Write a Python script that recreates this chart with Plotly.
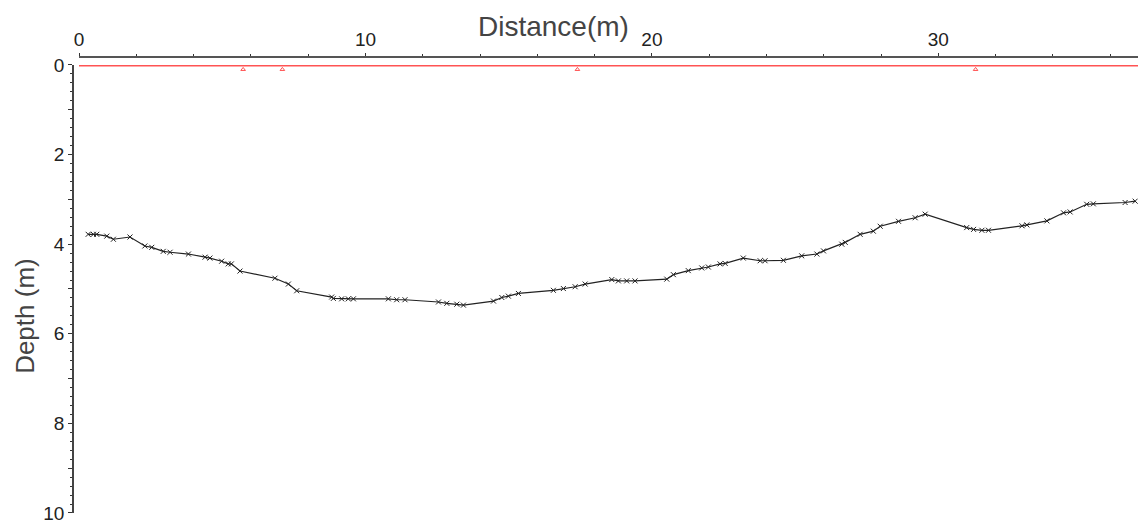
import plotly.graph_objects as go

# Bed profile along the survey line: distance (m) and depth (m)
distance_m = [
    0.32, 0.50, 0.62, 0.97, 1.20, 1.78, 2.30, 2.54, 2.94, 3.18, 3.82, 4.40, 4.57,
    4.98, 5.21, 5.32, 5.62, 6.84, 7.31, 7.60, 8.82, 8.88, 9.17, 9.40, 9.58,
    10.80, 11.09, 11.38, 12.55, 12.84, 13.19, 13.42, 14.47, 14.76, 14.99, 15.34,
    16.56, 16.91, 17.32, 17.67, 18.60, 18.83, 19.12, 19.41, 20.52, 20.75, 21.27,
    21.74, 21.97, 22.38, 22.56, 23.19, 23.78, 23.95, 24.59, 25.23, 25.76, 25.99,
    26.63, 26.75, 27.27, 27.73, 27.97, 28.61, 29.19, 29.54, 30.99, 31.23, 31.52,
    31.75, 32.92, 33.09, 33.79, 34.37, 34.60, 35.18, 35.41, 36.52, 36.87,
]
depth_m = [
    3.78, 3.78, 3.78, 3.82, 3.89, 3.84, 4.04, 4.07, 4.16, 4.18, 4.22, 4.29, 4.31,
    4.38, 4.44, 4.44, 4.60, 4.76, 4.89, 5.04, 5.18, 5.21, 5.22, 5.22, 5.22,
    5.22, 5.24, 5.24, 5.29, 5.32, 5.34, 5.36, 5.27, 5.19, 5.16, 5.10,
    5.03, 4.99, 4.95, 4.89, 4.79, 4.82, 4.82, 4.82, 4.78, 4.68, 4.59,
    4.53, 4.51, 4.44, 4.43, 4.31, 4.37, 4.37, 4.36, 4.26, 4.22, 4.15,
    4.00, 3.96, 3.78, 3.71, 3.60, 3.49, 3.41, 3.33, 3.63, 3.67, 3.69,
    3.69, 3.59, 3.57, 3.48, 3.30, 3.28, 3.11, 3.10, 3.07, 3.04,
]

# Water surface reference line
surface_x = [0.0, 36.97]
surface_depth = [0.01, 0.01]
surface_mark_x = [5.73, 7.10, 17.40, 31.30]
surface_mark_depth = [0.1, 0.1, 0.1, 0.1]

x_major_ticks = [0, 10, 20, 30]
y_ticks = [0, 1, 2, 3, 4, 5, 6, 7, 8, 9, 10]
y_tick_text = ["0", "", "2", "", "4", "", "6", "", "8", "", "10"]

FONT = "Arial, Liberation Sans, sans-serif"

fig = go.Figure()

fig.add_trace(go.Scatter(
    x=surface_x, y=surface_depth, mode="lines",
    line=dict(color="rgba(255,40,40,0.8)", width=2),
    hoverinfo="skip", showlegend=False,
))
fig.add_trace(go.Scatter(
    x=surface_mark_x, y=surface_mark_depth, mode="markers",
    marker=dict(symbol="triangle-up-open", size=4, color="rgba(255,40,40,0.8)",
                line=dict(width=1)),
    hoverinfo="skip", showlegend=False,
))
fig.add_trace(go.Scatter(
    x=distance_m, y=depth_m, mode="lines+markers",
    line=dict(color="#222222", width=1.2),
    marker=dict(symbol="x-thin", size=5, color="#222222",
                line=dict(width=1, color="#222222")),
    showlegend=False,
))

fig.update_layout(
    width=1138, height=524,
    margin=dict(l=73, r=0, t=57, b=9),
    paper_bgcolor="white", plot_bgcolor="white",
    font=dict(family=FONT, size=19, color="#222222"),
    xaxis=dict(
        side="top", anchor="free", position=1,
        domain=[6 / 1065, 1],
        range=[0, 36.97],
        tickvals=x_major_ticks,
        ticks="outside", ticklen=3, tickwidth=1, tickcolor="#333333",
        minor=dict(dtick=2, tick0=0, ticks="outside", ticklen=2,
                   tickcolor="#333333"),
        showline=True, linecolor="#555555", linewidth=1.5,
        showgrid=False, zeroline=False,
        ticklabeloverflow="allow",
        tickfont=dict(family=FONT, size=19, color="#222222"),
    ),
    yaxis=dict(
        anchor="free", position=0,
        domain=[0, 450 / 458],
        range=[10, 0],
        tickvals=y_ticks, ticktext=y_tick_text,
        ticks="outside", ticklen=4, tickwidth=1, tickcolor="#333333",
        minor=dict(dtick=0.2, tick0=0, ticks="outside", ticklen=2,
                   tickcolor="#333333"),
        showline=True, linecolor="#444444", linewidth=1.5,
        showgrid=False, zeroline=False,
        ticklabeloverflow="allow",
        tickfont=dict(family=FONT, size=19, color="#222222"),
    ),
    annotations=[
        dict(text="Distance(m)", xref="paper", yref="paper",
             x=(553 - 73) / 1065, y=(515 - 26) / 458,
             xanchor="center", yanchor="middle", showarrow=False,
             font=dict(family=FONT, size=28, color="#444444")),
        dict(text="Depth (m)", xref="paper", yref="paper",
             x=(25 - 73) / 1065, y=(515 - 317) / 458, textangle=-90,
             xanchor="center", yanchor="middle", showarrow=False,
             font=dict(family=FONT, size=26, color="#444444")),
    ],
)

fig.write_html("out.html")
